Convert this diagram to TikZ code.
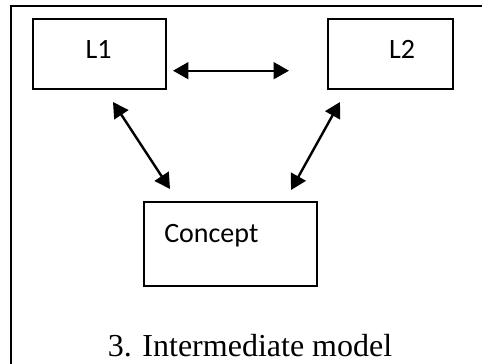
\documentclass[tikz,border=0pt]{standalone}
\usepackage{fontspec}
\setmainfont{Liberation Serif}
\newfontfamily\boxfont{Carlito}
\usetikzlibrary{arrows.meta}
\begin{document}
\begin{tikzpicture}[x=0.75pt,y=-0.75pt,
  box/.style={draw=black,line width=1pt,minimum width=#1,inner sep=0pt,fill=none},
  lbl/.style={font=\boxfont\fontsize{21}{24}\selectfont,inner sep=0pt,anchor=base},
  dbl/.style={line width=1.8pt,{Triangle[length=11.5pt,width=12.5pt]}-{Triangle[length=11.5pt,width=12.5pt]}},
  frame/.style={line width=1.5pt}]
\useasboundingbox (0,0) rectangle (482,364);
% frame (top and left edges visible)
\coordinate (ftl) at (11,6);
\coordinate (ftr) at (482,6);
\coordinate (fbl) at (11,364);
\draw[frame] (ftr) -- (ftl) -- (fbl);
% boxes
\node[box=99.75pt,minimum height=52.5pt] (L1) at (99.5,54) {};
\node[box=93.75pt,minimum height=52.5pt] (L2) at (390.5,54) {};
\node[box=129.75pt,minimum height=63pt] (C) at (230.5,244) {};
% labels
\node[lbl] (tL1) at (98.5,58) {L1};
\node[lbl] (tL2) at (402,58) {L2};
\node[lbl,anchor=base west] (tC) at (164,242) {Concept};
\node[font=\fontsize{24}{28}\selectfont,inner sep=0pt,anchor=base] (cap) at (250,356) {3. Intermediate model};
% arrow ends
\coordinate (h1) at (173,70.7);
\coordinate (h2) at (289,70.7);
\coordinate (a1) at (113,102);
\coordinate (a2) at (170,189);
\coordinate (b1) at (340,102);
\coordinate (b2) at (291,190);
\draw[dbl] (h1) -- (h2);
\draw[dbl] (a1) -- (a2);
\draw[dbl] (b1) -- (b2);
\end{tikzpicture}
\end{document}
